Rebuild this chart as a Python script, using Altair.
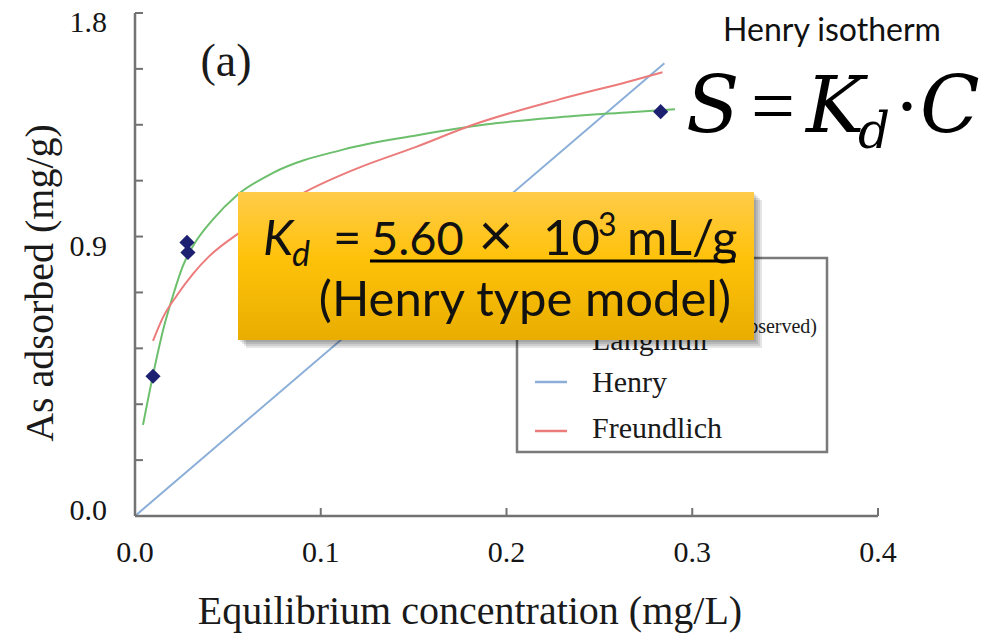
import altair as alt
import pandas as pd

# ---------------- data ----------------
obs_c = [0.0097, 0.0280, 0.0285, 0.2830]
obs_s = [0.500, 0.979, 0.943, 1.447]

lang_c = [0.0043, 0.0097, 0.0151, 0.0205, 0.0258, 0.0330, 0.0415, 0.0549, 0.0743,
          0.1125, 0.1513, 0.1895, 0.2283, 0.2665, 0.2907]
lang_s = [0.326, 0.505, 0.665, 0.790, 0.895, 0.985, 1.058, 1.148, 1.228,
          1.312, 1.362, 1.402, 1.427, 1.445, 1.456]

henry_c = [0.0, 0.285]
henry_s = [0.0, 1.620]

fr_c = [0.0097, 0.0150, 0.0226, 0.0310, 0.0400, 0.0550, 0.0700, 0.0890, 0.1200,
        0.1510, 0.1820, 0.2280, 0.2660, 0.2840]
fr_s = [0.627, 0.710, 0.790, 0.865, 0.930, 1.008, 1.070, 1.150, 1.245,
        1.320, 1.400, 1.490, 1.555, 1.588]

series_names = ["Langmuir", "Henry", "Freundlich"]
series_colors = ["#6cbf6c", "#8aaed8", "#ec7b7b"]

x_ticks = [0.1, 0.2, 0.3, 0.4]
x_tick_labels = ["0.0", "0.1", "0.2", "0.3", "0.4"]
x_label_vals = [0.0, 0.1, 0.2, 0.3, 0.4]
y_ticks = [0.2, 0.4, 0.6, 0.8, 1.0, 1.2, 1.4, 1.6, 1.8]
y_tick_labels = ["0.0", "0.9", "1.8"]
y_label_at = [0.018, 0.963, 1.765]

# ---------------- layout helpers ----------------
W, H = 743, 503
X0, Y0 = 135, 13          # page position of plot origin
SERIF = "Liberation Serif"
MATH = "DejaVu Serif"
SANS = "Lato"
AXC = "#727272"

xs = alt.Scale(domain=[0, 0.4], nice=False, zero=False)
ys = alt.Scale(domain=[0, 1.8], nice=False, zero=False)

one = pd.DataFrame({"k": [0]})

def txt(s, px, py, size, font=SERIF, align="left", style="normal", weight="normal",
        angle=0, color="#111111"):
    kw = dict(text=s, fontSize=size, font=font, align=align, baseline="alphabetic",
              fontStyle=style, fontWeight=weight, color=color)
    if angle:
        kw["angle"] = angle
    return alt.Chart(one).mark_text(**kw).encode(
        x=alt.value(px - X0), y=alt.value(py - Y0))

def box(x1, y1, x2, y2, **kw):
    return alt.Chart(one).mark_rect(**kw).encode(
        x=alt.value(x1 - X0), x2=alt.value(x2 - X0),
        y=alt.value(y1 - Y0), y2=alt.value(y2 - Y0))

def hrule(x1, x2, y, color, width):
    return alt.Chart(one).mark_rule(color=color, strokeWidth=width).encode(
        x=alt.value(x1 - X0), x2=alt.value(x2 - X0), y=alt.value(y - Y0))

# ---------------- data frames ----------------
rows = []
for name, cs, ss in [("Henry", henry_c, henry_s), ("Langmuir", lang_c, lang_s),
                     ("Freundlich", fr_c, fr_s)]:
    for c, s in zip(cs, ss):
        rows.append({"series": name, "c": c, "s": s})
df_lines = pd.DataFrame(rows)
df_obs = pd.DataFrame({"c": obs_c, "s": obs_s})
df_xt = pd.DataFrame({"v": x_ticks})
df_yt = pd.DataFrame({"v": y_ticks})
df_xl = pd.DataFrame({"v": x_label_vals, "t": x_tick_labels})
df_yl = pd.DataFrame({"v": y_label_at, "t": y_tick_labels})

lines = alt.Chart(df_lines).mark_line(strokeWidth=2, interpolate="monotone").encode(
    x=alt.X("c:Q", scale=xs, axis=None),
    y=alt.Y("s:Q", scale=ys, axis=None),
    color=alt.Color("series:N", scale=alt.Scale(domain=series_names, range=series_colors),
                    legend=None),
)

points = alt.Chart(df_obs).mark_point(shape="diamond", filled=True, size=230,
                                      color="#1d2070", opacity=1).encode(
    x=alt.X("c:Q", scale=xs, axis=None),
    y=alt.Y("s:Q", scale=ys, axis=None),
)

# axis lines and inward ticks
xdomain = alt.Chart(one).mark_rule(color=AXC, strokeWidth=2.5).encode(
    x=alt.value(0), x2=alt.value(W), y=alt.value(H))
ydomain = alt.Chart(one).mark_rule(color=AXC, strokeWidth=2.5).encode(
    x=alt.value(0), y=alt.value(0), y2=alt.value(H))
xtick = alt.Chart(df_xt).mark_rule(color=AXC, strokeWidth=2).encode(
    x=alt.X("v:Q", scale=xs, axis=None),
    y=alt.value(H), y2=alt.value(H - 8))
ytick = alt.Chart(df_yt).mark_rule(color=AXC, strokeWidth=2).encode(
    y=alt.Y("v:Q", scale=ys, axis=None),
    x=alt.value(0), x2=alt.value(8))

xlab = alt.Chart(df_xl).mark_text(font=SERIF, fontSize=30, color="#151515",
                                  baseline="alphabetic", align="center").encode(
    x=alt.X("v:Q", scale=xs, axis=None), y=alt.value(562 - Y0), text="t:N")
ylab = alt.Chart(df_yl).mark_text(font=SERIF, fontSize=30, color="#151515",
                                  baseline="middle", align="right").encode(
    y=alt.Y("v:Q", scale=ys, axis=None), x=alt.value(107 - X0), text="t:N")

titles = [
    txt("Equilibrium concentration (mg/L)", 470, 624, 40, align="center", color="#1a1a1a"),
    txt("As adsorbed (mg/g)", 53, 283, 40, align="center", angle=270, color="#1a1a1a"),
    txt("(a)", 226, 76, 46, align="center", color="#1a1a1a"),
]

# legend (drawn by hand so the call-out box can cover part of it)
legend = [
    box(517, 258, 827, 452, fill="white", stroke="#7a7a7a", strokeWidth=2.5),
    txt("As adsorbed (observed)", 817, 333, 20, align="right", color="#1a1a1a"),
    hrule(535, 567, 338, series_colors[0], 2.5),
    txt("Langmuir", 592, 350, 30, color="#1a1a1a"),
    hrule(535, 567, 382, series_colors[1], 2.5),
    txt("Henry", 592, 392, 30, color="#1a1a1a"),
    hrule(535, 567, 431, series_colors[2], 2.5),
    txt("Freundlich", 592, 438, 30, color="#1a1a1a"),
]

# call-out box with soft shadow
shadow = [box(238 + d, 192 + d, 754 + d, 340 + d, fill="#000000", opacity=0.10)
          for d in (2, 4, 6, 8)]
grad = alt.Gradient(gradient="linear", x1=0, x2=0, y1=0, y2=1,
                    stops=[alt.GradientStop(color="#ffcb4a", offset=0),
                           alt.GradientStop(color="#ffc20a", offset=0.45),
                           alt.GradientStop(color="#e8ad00", offset=1)])
callout = [
    box(238, 192, 754, 340, fill=grad),
    txt("K", 263, 255, 49, font=SANS, style="italic"),
    txt("d", 292, 266, 34, font=SANS, style="italic"),
    txt("=", 333, 255, 49, font=SANS),
    txt("5.60", 371, 255, 47, font=SANS),
    txt("\u00d7", 496, 256, 60, font=SANS, align="center"),
    txt("10", 543, 255, 49, font=SANS),
    txt("3", 598, 236, 32, font=SANS),
    txt("mL/g", 627, 255, 49, font=SANS),
    hrule(370, 735, 261, "#000000", 3),
    txt("(Henry type model)", 731, 316, 49, font=SANS, align="right"),
]

# mathematical italic letters (serif italic glyphs)
equation = [
    txt("Henry isotherm", 832, 41, 32, font=SANS, align="center"),
    txt("\U0001D446", 686, 132, 78, font=MATH, color="#000000"),
    txt("=", 773, 132, 78, font=SERIF, align="center", color="#000000"),
    txt("\U0001D43E", 806, 132, 78, font=MATH, color="#000000"),
    txt("\U0001D451", 858, 148, 50, font=MATH, color="#000000"),
    txt("\u00b7", 907, 132, 78, font=SERIF, align="center", color="#000000"),
    txt("\U0001D436", 920, 132, 78, font=MATH, color="#000000"),
]

chart = alt.layer(
    lines, points, xdomain, ydomain, xtick, ytick, xlab, ylab, *titles, *legend,
    *shadow, *callout, *equation
).properties(
    width=W, height=H,
    padding={"left": 127, "top": 5, "right": 114, "bottom": 117},
    autosize=alt.AutoSizeParams(type="none"),
    background="white",
).configure_view(stroke=None)

chart.save("out.html", embed_options={"renderer": "svg", "actions": False})
